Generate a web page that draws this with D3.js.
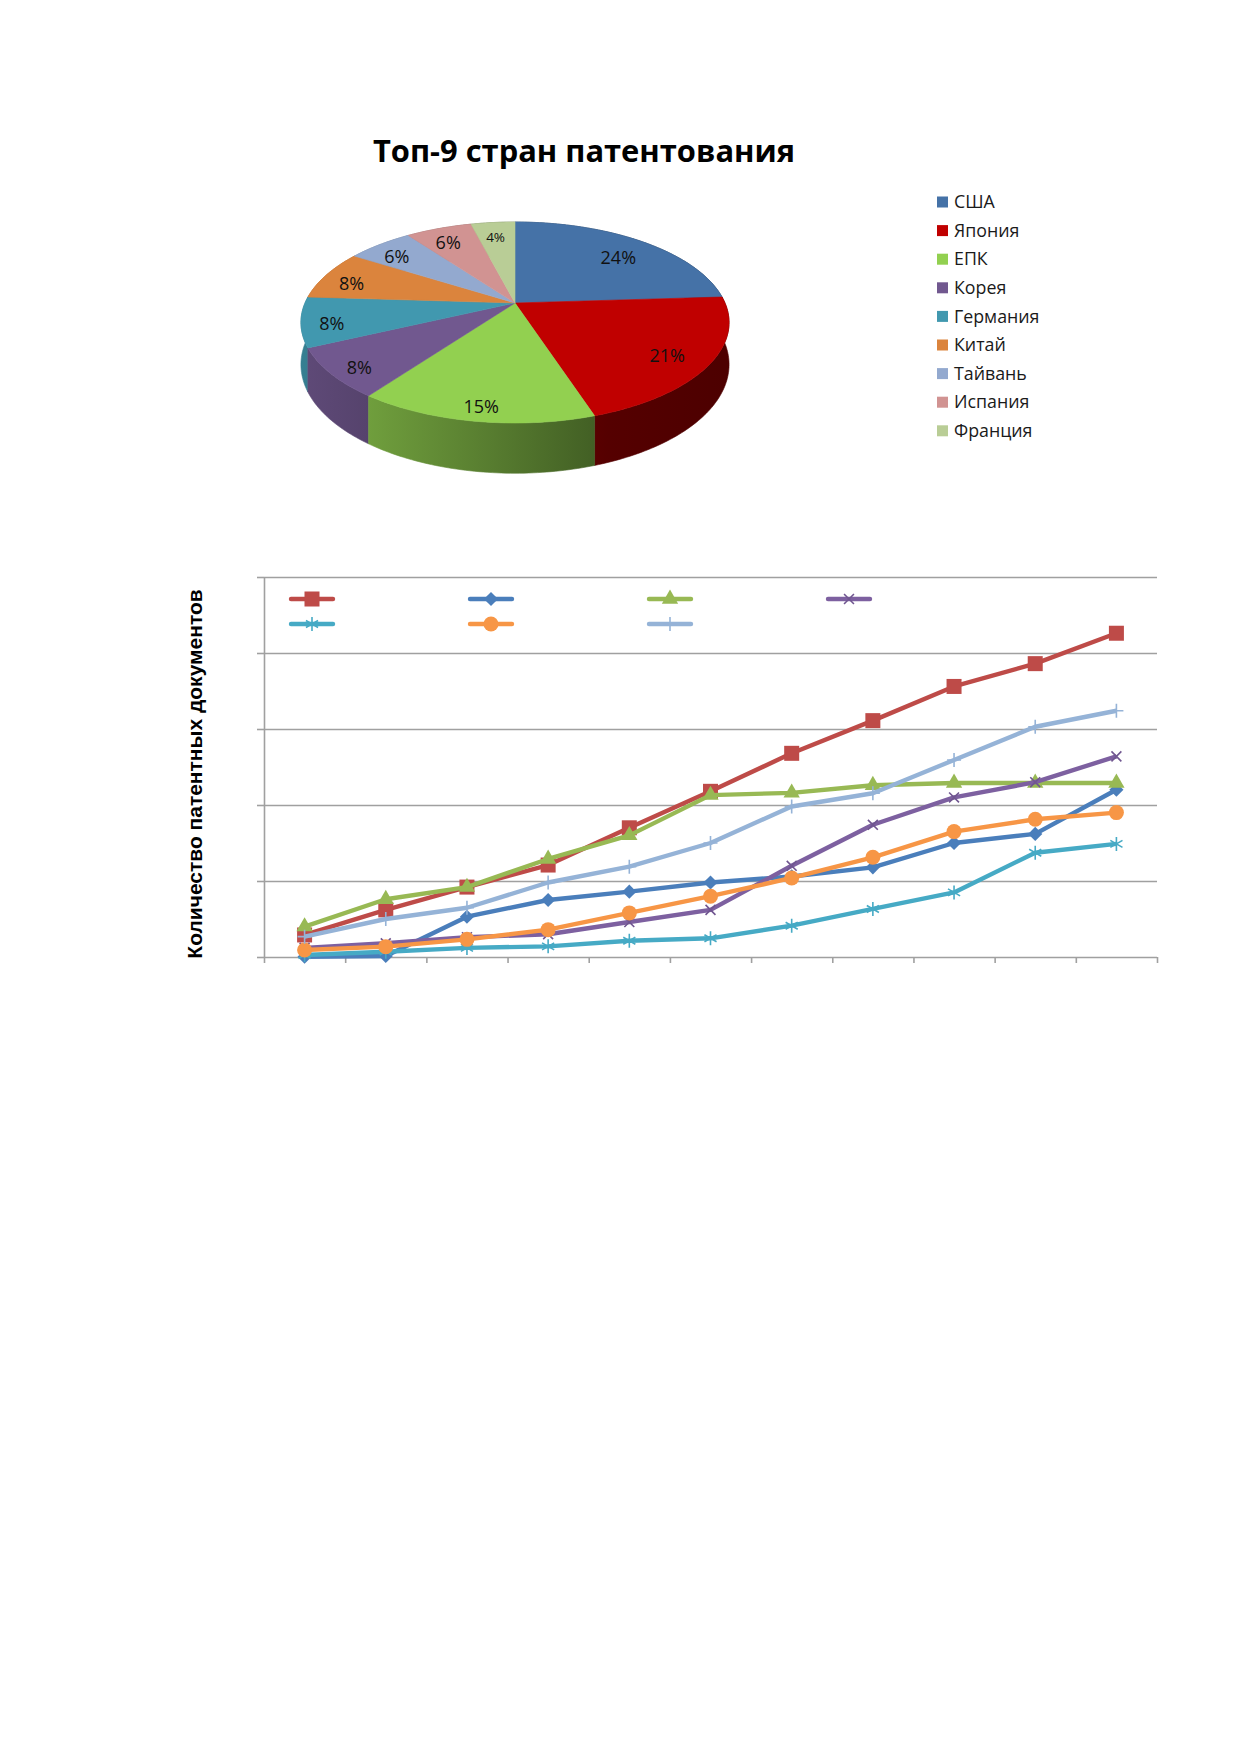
<!DOCTYPE html>
<head>
    <meta charset="utf-8">
    <style>
        body { margin: 0; background: #fff; }
        svg { display: block; }
    </style>
</head>
<body>
    <div id="chart"></div>
    <script src="https://d3js.org/d3.v7.min.js"></script>
    <script>
        // pie data
        var countries = ["США", "Япония", "ЕПК", "Корея", "Германия", "Китай", "Тайвань", "Испания", "Франция"];
        var shares = [24, 21, 15, 8, 8, 8, 6, 6, 4];
        var pieColors = ["#4572a7", "#c00000", "#92d050", "#71588f", "#4198af", "#db843d", "#93a9cf", "#d19392", "#b9cd96"];

        // line chart data (no labels shown on the original)
        var periods = ["1", "2", "3", "4", "5", "6", "7", "8", "9", "10", "11"];
        var seriesNames = ["Япония", "США", "ЕПК", "Корея", "Германия", "Китай", "Тайвань"];
        var serJapan  = [14.5, 31, 46, 60.5, 85, 109, 134, 155.5, 178, 193, 213];
        var serUSA    = [0.2, 0.7, 26.5, 37.5, 43, 49, 53, 59, 75, 81, 110];
        var serEPO    = [20, 38, 46, 64.5, 80, 106.5, 108, 113, 114.5, 114.5, 114.5];
        var serKorea  = [6, 9, 13, 15, 23, 31, 60, 87, 105, 115, 132];
        var serGerm   = [1.3, 3.5, 6, 7, 10.7, 12.3, 20.6, 31.6, 42.5, 68.6, 74.4];
        var serChina  = [4.6, 6.8, 11.6, 18, 29, 40, 52, 65.6, 82.5, 90.6, 95];
        var serTaiwan = [13.4, 25, 32.4, 49, 59.4, 75, 99, 107.7, 129.6, 151.5, 162];
        var yTicks = [0, 50, 100, 150, 200, 250];

        var lineColors = ["#be4b48", "#4a7ebb", "#98b954", "#7d60a0", "#46aac5", "#f79646", "#95b3d7"];
        var markerKinds = ["square", "diamond", "triangle", "times", "asterisk", "circle", "plus"];

        var W = 1239, H = 1752;
        var svg = d3.select("#chart").append("svg")
            .attr("width", W).attr("height", H);
        svg.append("rect").attr("width", W).attr("height", H).attr("fill", "#fff");
        var defs = svg.append("defs");

        // ---------- pie ----------
        svg.append("text")
            .attr("x", 584).attr("y", 162)
            .attr("text-anchor", "middle")
            .attr("font-family", "'Open Sans', sans-serif")
            .attr("font-weight", 700)
            .attr("font-size", 31)
            .attr("textLength", 422)
            .attr("lengthAdjust", "spacingAndGlyphs")
            .attr("fill", "#000")
            .text("Топ-9 стран патентования");

        // perspective projection of a tilted disk
        var pcx = 515, pcy = 303, prx = 210, pry = 96.7, pk = 0.194, depth = 40.5;
        function proj(theta, f) {
            var X = f * Math.sin(theta), Z = -f * Math.cos(theta);
            var d = 1 - pk * Z;
            return [pcx + prx * X / d, pcy + pry * Z / d, d];
        }
        function arcPts(a0, a1) {
            var n = Math.max(2, Math.ceil((a1 - a0) / (Math.PI / 180)));
            return d3.range(n + 1).map(function(i) { return proj(a0 + (a1 - a0) * i / n, 1); });
        }

        var arcs = d3.pie().sort(null).value(function(d) { return d; })(shares);
        arcs.forEach(function(a, i) { a.color = pieColors[i]; a.idx = i; });

        var pieG = svg.append("g");

        // side wall, back pieces first
        var sideOrder = arcs.slice().sort(function(a, b) {
            return (-Math.cos((a.startAngle + a.endAngle) / 2)) - (-Math.cos((b.startAngle + b.endAngle) / 2));
        });
        sideOrder.forEach(function(a) {
            var c = d3.color(a.color);
            var gid = "side" + a.idx;
            var gr = defs.append("linearGradient").attr("id", gid)
                .attr("gradientUnits", "userSpaceOnUse")
                .attr("x1", pcx - prx - 5).attr("x2", pcx + prx + 15)
                .attr("y1", 0).attr("y2", 0);
            [[0, 0.5], [0.15, 0.75], [0.7, 2.3], [1, 2.6]].forEach(function(s) {
                gr.append("stop").attr("offset", s[0]).attr("stop-color", c.darker(s[1]).formatHex());
            });
            var rim = arcPts(a.startAngle, a.endAngle);
            var bot = rim.map(function(p) { return [p[0], p[1] + depth / p[2]]; }).reverse();
            var p = d3.path();
            rim.forEach(function(pt, j) { j ? p.lineTo(pt[0], pt[1]) : p.moveTo(pt[0], pt[1]); });
            bot.forEach(function(pt) { p.lineTo(pt[0], pt[1]); });
            p.closePath();
            pieG.append("path").attr("d", p.toString())
                .attr("fill", "url(#" + gid + ")")
                .attr("stroke", "url(#" + gid + ")").attr("stroke-width", 0.6);
        });

        // top faces
        arcs.forEach(function(a) {
            var p = d3.path();
            p.moveTo(pcx, pcy);
            arcPts(a.startAngle, a.endAngle).forEach(function(pt) { p.lineTo(pt[0], pt[1]); });
            p.closePath();
            pieG.append("path").attr("d", p.toString())
                .attr("fill", a.color).attr("stroke", a.color).attr("stroke-width", 0.6);
        });

        // percentage labels
        arcs.forEach(function(a) {
            var pt = proj((a.startAngle + a.endAngle) / 2, a.data > 20 ? 0.8 : 0.86);
            pieG.append("text")
                .attr("x", pt[0]).attr("y", pt[1] + 5)
                .attr("dy", "0.35em")
                .attr("text-anchor", "middle")
                .attr("font-family", "'Open Sans', sans-serif")
                .attr("font-size", a.data < 5 ? 13.5 : 18)
                .attr("fill", "#111")
                .text(a.data + "%");
        });

        // pie legend
        var leg = svg.append("g");
        countries.forEach(function(name, i) {
            var ly = 202 + i * 28.6;
            leg.append("rect").attr("x", 937).attr("y", ly - 5.5)
                .attr("width", 11).attr("height", 11).attr("fill", pieColors[i]);
            leg.append("text").attr("x", 954).attr("y", ly).attr("dy", "0.35em")
                .attr("font-family", "'Open Sans', sans-serif").attr("font-size", 17.8)
                .attr("fill", "#1a1a1a").text(name);
        });

        // ---------- line chart ----------
        var plotLeft = 264, plotRight = 1157, plotTop = 577, plotBottom = 957;
        var x = d3.scaleBand().domain(periods).range([plotLeft, plotRight]);
        var xEdge = d3.scaleLinear().domain([0, periods.length]).range([plotLeft, plotRight]);
        var y = d3.scaleLinear().domain([0, 250]).range([plotBottom, plotTop]);

        var g = svg.append("g");

        // horizontal gridlines + left ticks
        g.append("g")
            .attr("transform", "translate(" + plotLeft + ",0)")
            .call(d3.axisLeft(y).tickValues(yTicks).tickSize(7).tickSizeOuter(0).tickFormat(""))
            .call(function(s) {
                s.selectAll("line,path").attr("stroke", "#a0a0a0").attr("stroke-width", 1.6);
                s.selectAll(".tick").append("line")
                    .attr("x1", 0).attr("x2", plotRight - plotLeft)
                    .attr("stroke", "#a0a0a0").attr("stroke-width", 1.6);
            });

        // bottom ticks at category boundaries
        g.append("g")
            .attr("transform", "translate(0," + plotBottom + ")")
            .call(d3.axisBottom(xEdge).ticks(periods.length).tickSize(6).tickFormat("").tickSizeOuter(0))
            .call(function(s) {
                s.select(".domain").remove();
                s.selectAll("line").attr("stroke", "#a0a0a0").attr("stroke-width", 1.6);
            });

        svg.append("text")
            .attr("transform", "translate(202,774) rotate(-90)")
            .attr("text-anchor", "middle")
            .attr("font-family", "'Liberation Sans', Arial, sans-serif")
            .attr("font-weight", 700)
            .attr("font-size", 21)
            .attr("fill", "#000")
            .text("Количество патентных документов");

        function marker(sel, kind, color) {
            if (kind === "square") {
                sel.append("rect").attr("x", -7.5).attr("y", -7.5).attr("width", 15).attr("height", 15).attr("fill", color);
            } else if (kind === "diamond") {
                sel.append("rect").attr("x", -5).attr("y", -5).attr("width", 10).attr("height", 10)
                    .attr("transform", "rotate(45)").attr("fill", color);
            } else if (kind === "triangle") {
                sel.append("path").attr("d", d3.symbol(d3.symbolTriangle, 115)()).attr("fill", color);
            } else if (kind === "circle") {
                sel.append("circle").attr("r", 7.5).attr("fill", color);
            } else {
                var p = d3.path(), r = 7;
                var angs = kind === "times" ? [45, 135] : kind === "plus" ? [0, 90] : [30, 90, 150];
                angs.forEach(function(a) {
                    var t = a * Math.PI / 180;
                    p.moveTo(-r * Math.cos(t), -r * Math.sin(t));
                    p.lineTo(r * Math.cos(t), r * Math.sin(t));
                });
                sel.append("path").attr("d", p.toString())
                    .attr("stroke", kind === "times" ? d3.color(color).darker(0.3) : color)
                    .attr("stroke-width", 1.6).attr("fill", "none");
            }
        }

        var allSeries = [serJapan, serUSA, serEPO, serKorea, serGerm, serChina, serTaiwan];
        var line = d3.line()
            .x(function(d, i) { return x(periods[i]) + x.bandwidth() / 2; })
            .y(function(d) { return y(d); });

        allSeries.forEach(function(vals, si) {
            var sg = g.append("g");
            sg.append("path").attr("d", line(vals))
                .attr("fill", "none").attr("stroke", lineColors[si])
                .attr("stroke-width", 4.4).attr("stroke-linejoin", "round");
            vals.forEach(function(v, i) {
                var m = sg.append("g").attr("transform",
                    "translate(" + (x(periods[i]) + x.bandwidth() / 2) + "," + y(v) + ")");
                marker(m, markerKinds[si], lineColors[si]);
            });
        });

        // legend of line chart (markers only, as on the original)
        var lg = g.append("g");
        seriesNames.forEach(function(name, i) {
            var cx = 312 + (i % 4) * 179, cy = i < 4 ? 599 : 624;
            lg.append("line").attr("x1", cx - 21).attr("x2", cx + 21)
                .attr("y1", cy).attr("y2", cy)
                .attr("stroke", lineColors[i]).attr("stroke-width", 4.4).attr("stroke-linecap", "round");
            var m = lg.append("g").attr("transform", "translate(" + cx + "," + cy + ")");
            marker(m, markerKinds[i], lineColors[i]);
        });
    </script>
</body>
